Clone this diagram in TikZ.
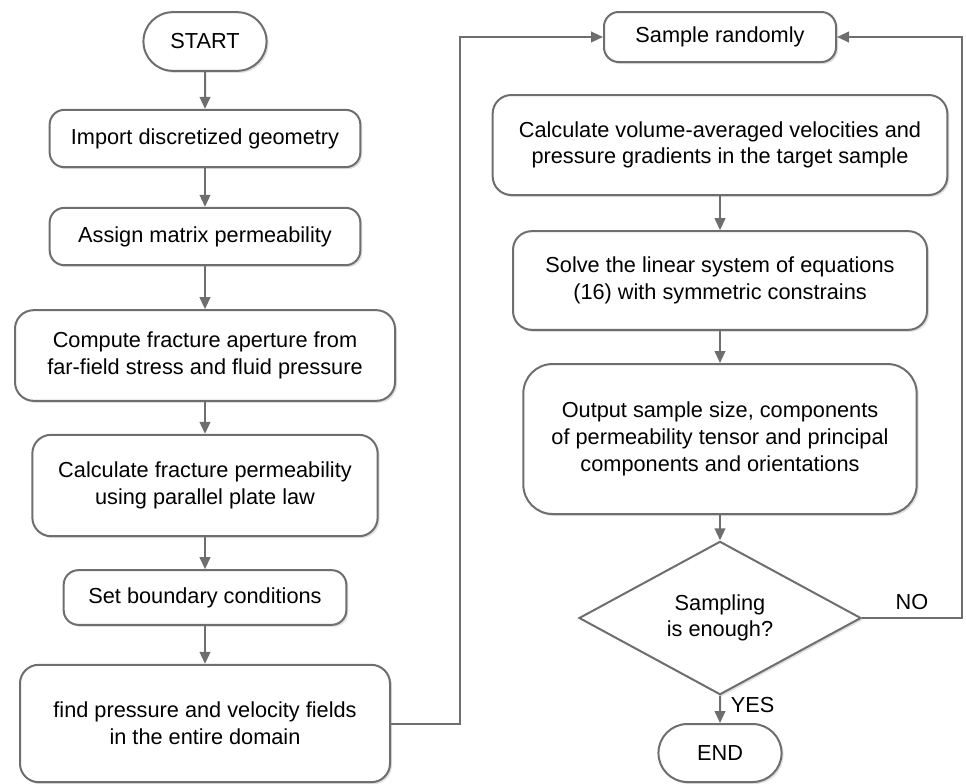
\documentclass[tikz,border=0pt]{standalone}
\usepackage{fontspec}
\setmainfont{Liberation Sans}
\usetikzlibrary{positioning, shapes.misc, shapes.geometric, shadows, arrows.meta}

\definecolor{linegray}{HTML}{6E6E6E}

\tikzset{
    box/.style={draw=linegray, line width=1.5pt, rounded corners=14pt, fill=white,
        align=center, inner sep=2pt,
        drop shadow={shadow xshift=1.5pt, shadow yshift=-1.5pt, opacity=0.25}},
    terminal/.style={draw=linegray, line width=1.5pt, rounded rectangle, fill=white,
        minimum width=99pt, minimum height=44pt,
        drop shadow={shadow xshift=1.5pt, shadow yshift=-1.5pt, opacity=0.25}},
    decision/.style={draw=linegray, line width=1.5pt, diamond, aspect=1.85, fill=white,
        align=center, inner sep=0pt, minimum width=211.5pt, minimum height=115pt,
        drop shadow={shadow xshift=1.5pt, shadow yshift=-1.5pt, opacity=0.25}},
    flow/.style={draw=linegray, line width=1.5pt, -{Triangle[length=9pt, width=8pt]}}
}

\begin{document}
\begin{tikzpicture}[x=0.75pt, y=-0.75pt, font=\fontsize{16.3}{20}\selectfont]
            \useasboundingbox (0,0) rectangle (966,783);

            % left column
            \node[terminal] (start) at (205,41.5) {START};
            \node[box, rounded corners=11pt, minimum width=233pt, minimum height=43pt] (import) at (205,138.5) {Import discretized geometry};
            \node[box, rounded corners=11pt, minimum width=233pt, minimum height=43pt] (matrix) at (205,236.5) {Assign matrix permeability};
            \node[box, minimum width=285pt, minimum height=68pt] (aperture) at (205,355.5) {Compute fracture aperture from\\far-field stress and fluid pressure};
            \node[box, minimum width=259pt, minimum height=76pt] (fracperm) at (205,485.5) {Calculate fracture permeability\\using parallel plate law};
            \node[box, rounded corners=11pt, minimum width=212pt, minimum height=41pt] (boundary) at (205,597.5) {Set boundary conditions};
            \node[box, minimum width=277.5pt, minimum height=88pt] (fields) at (205,723.5) {find pressure and velocity fields\\in the entire domain};

            % right column
            \node[box, rounded corners=11pt, minimum width=174pt, minimum height=37.5pt] (sample) at (720,37) {Sample randomly};
            \node[box, minimum width=341pt, minimum height=75pt] (average) at (720,145) {Calculate volume-averaged velocities and\\pressure gradients in the target sample};
            \node[box, minimum width=310.5pt, minimum height=74pt] (solve) at (720,280.5) {Solve the linear system of equations\\(16) with symmetric constrains};
            \node[box, rounded corners=22pt, minimum width=295pt, minimum height=112.5pt] (output) at (720,439) {Output sample size, components\\of permeability tensor and principal\\components and orientations};
            \node[decision] (enough) at (720,618) {Sampling\\is enough?};
            \node[terminal, minimum height=43.5pt] (end) at (720,753) {END};

            \coordinate (up) at (460,37);
            \coordinate (back) at (962,37);

            \path[flow] (start) -- (import);
            \path[flow] (import) -- (matrix);
            \path[flow] (matrix) -- (aperture);
            \path[flow] (aperture) -- (fracperm);
            \path[flow] (fracperm) -- (boundary);
            \path[flow] (boundary) -- (fields);
            \path[flow] (fields.east) -| (up) -- (sample.west);
            \path[flow] (average) -- (solve);
            \path[flow] (solve) -- (output);
            \path[flow] (output) -- (enough);
            \path[flow] (enough) -- node[right, xshift=4pt, yshift=3pt] {YES} (end);
            \path[flow] (enough.east) -- node[above, pos=0.5, yshift=2pt] {NO} (enough.east -| back) -- (back) -- (sample.east);
        \end{tikzpicture}
\end{document}
